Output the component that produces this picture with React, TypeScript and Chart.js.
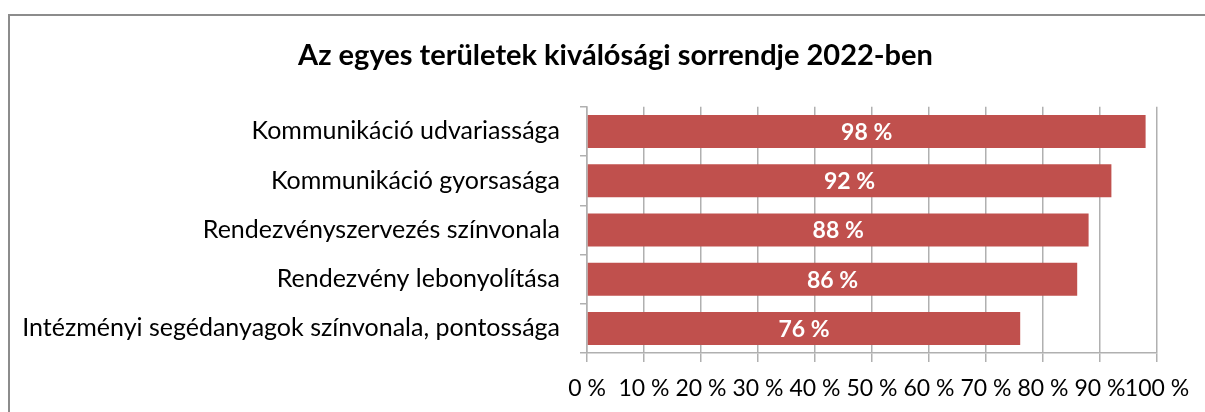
import React, { useEffect, useRef } from "react";
import { Chart, registerables } from "chart.js";

Chart.register(...registerables);

const categories = [
  "Kommunikáció udvariassága",
  "Kommunikáció gyorsasága",
  "Rendezvényszervezés színvonala",
  "Rendezvény lebonyolítása",
  "Intézményi segédanyagok színvonala, pontossága",
];
const values = [98, 92, 88, 86, 76];
const xTickValues = [0, 10, 20, 30, 40, 50, 60, 70, 80, 90, 100];
const titleText = "Az egyes területek kiválósági sorrendje 2022-ben";

const FONT = "Lato";

const framePlugin = {
  id: "frame",
  beforeDraw(chart: any) {
    const ctx = chart.ctx;
    ctx.save();
    ctx.fillStyle = "#ffffff";
    ctx.fillRect(0, 0, chart.width, chart.height);
    ctx.strokeStyle = "#8c8c8c";
    ctx.lineWidth = 2;
    ctx.beginPath();
    ctx.moveTo(9, chart.height + 5);
    ctx.lineTo(9, 15);
    ctx.lineTo(chart.width + 5, 15);
    ctx.stroke();
    ctx.restore();
  },
};

// shift the title's horizontal span so it centres where the original does
const titleShiftPlugin = {
  id: "titleShift",
  afterLayout(chart: any) {
    if (chart.titleBlock) {
      chart.titleBlock.left = 74;
    }
  },
};

const dataLabelPlugin = {
  id: "barLabels",
  afterDatasetsDraw(chart: any) {
    const ctx = chart.ctx;
    const meta = chart.getDatasetMeta(0);
    ctx.save();
    ctx.fillStyle = "#ffffff";
    ctx.font = `bold 23px ${FONT}`;
    ctx.textAlign = "center";
    ctx.textBaseline = "middle";
    meta.data.forEach((bar: any, i: number) => {
      const p = bar.getProps(["x", "y", "base"], true);
      ctx.fillText(`${values[i]} %`, (p.x + p.base) / 2, p.y + 1);
    });
    ctx.restore();
  },
};

export default function App() {
  const ref = useRef<HTMLCanvasElement>(null);
  useEffect(() => {
    if (!ref.current) return;
    const chart = new Chart(ref.current, {
      type: "bar",
      data: {
        labels: categories,
        datasets: [
          {
            data: values,
            backgroundColor: "#C0504D",
            borderWidth: 0,
            categoryPercentage: 1,
            barPercentage: 0.67,
          },
        ],
      },
      options: {
        indexAxis: "y",
        animation: false,
        responsive: false,
        layout: { padding: { left: 0, right: 48, top: 20, bottom: 0 } },
        plugins: {
          legend: { display: false },
          tooltip: { enabled: false },
          title: {
            display: true,
            text: titleText,
            color: "#000000",
            font: { family: FONT, size: 29, weight: "bold" },
            padding: { top: 18, bottom: 34 },
          },
        },
        scales: {
          x: {
            min: 0,
            max: 100,
            afterBuildTicks(scale: any) {
              scale.ticks = xTickValues.map((v) => ({ value: v }));
            },
            afterFit(scale: any) {
              scale.height = 59;
            },
            ticks: {
              autoSkip: false,
              maxRotation: 0,
              minRotation: 0,
              color: "#000000",
              padding: 13,
              font: { family: FONT, size: 23 },
              callback: (v: any) => `${v} %`,
            },
            grid: {
              color: "#b0b0b0",
              lineWidth: 1.5,
              tickLength: 9,
            },
            border: { color: "#b0b0b0", width: 1.5 },
          },
          y: {
            afterFit(scale: any) {
              scale.width = 587;
            },
            ticks: {
              color: "#000000",
              padding: 20,
              font: { family: FONT, size: 25 },
            },
            grid: {
              drawOnChartArea: false,
              color: "#b0b0b0",
              lineWidth: 1.5,
              tickLength: 7,
            },
            border: { color: "#b0b0b0", width: 1.5 },
          },
        },
      },
      plugins: [framePlugin, titleShiftPlugin, dataLabelPlugin],
    });
    return () => chart.destroy();
  }, []);
  return (
    <div style={{ position: "absolute", left: 0, top: 0, width: 1205, height: 412 }}>
      <canvas ref={ref} width={1205} height={412} />
    </div>
  );
}
